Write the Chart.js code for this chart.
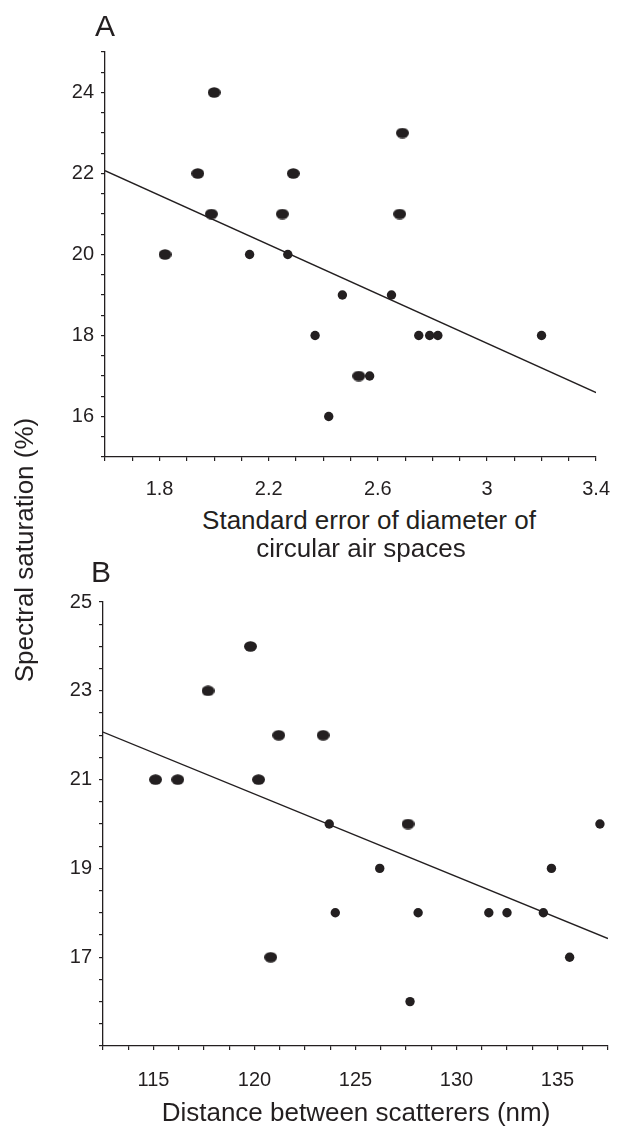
<!DOCTYPE html>
<html>
<head>
<meta charset="utf-8">
<script src="https://cdn.jsdelivr.net/npm/chart.js@4.4.1/dist/chart.umd.min.js"></script>
<style>
  html, body { margin: 0; padding: 0; background: #fff; }
  #page { position: relative; width: 626px; height: 1127px; overflow: hidden; font-family: Arial, "Liberation Sans", sans-serif; color: #231f20; }
  canvas { position: absolute; left: 0; }
  .txt { position: absolute; white-space: nowrap; line-height: 1; }
  .panel { font-size: 30px; }
  .xtitle { font-size: 26px; transform: translateX(-50%); }
  #ytitle { font-size: 26px; width: 300px; height: 26px; text-align: center; transform: rotate(-90deg); }
</style>
</head>
<body>
<div id="page">
  <canvas id="chartA" width="626" height="500" style="top:0"></canvas>
  <canvas id="chartB" width="626" height="567" style="top:560px"></canvas>

  <div class="txt panel" style="left:95px; top:11px">A</div>
  <div class="txt panel" style="left:91px; top:557px">B</div>
  <div class="txt xtitle" style="left:369px; top:507px">Standard error of diameter of</div>
  <div class="txt xtitle" style="left:361px; top:535px">circular air spaces</div>
  <div class="txt xtitle" style="left:356px; top:1099px">Distance between scatterers (nm)</div>
  <div class="txt" id="ytitle" style="left:-126px; top:537px">Spectral saturation (%)</div>
</div>

<script>
// Panel A: standard error of diameter vs spectral saturation
const aLargeX = [1.82, 2.00, 1.94, 1.99, 2.25, 2.29, 2.53, 2.69, 2.68];
const aLargeY = [20, 24, 22, 21, 21, 22, 17, 23, 21];
const aSmallX = [2.13, 2.27, 2.37, 2.42, 2.47, 2.57, 2.65, 2.75, 2.79, 2.82, 3.20];
const aSmallY = [20, 20, 18, 16, 19, 17, 19, 18, 18, 18, 18];
const aFitX = [1.6, 3.4];
const aFitY = [22.07, 16.59];
const aXTicks = [1.8, 2.2, 2.6, 3, 3.4];
const aYTicks = [16, 18, 20, 22, 24];

// Panel B: distance between scatterers vs spectral saturation
const bLargeX = [115.1, 116.2, 117.7, 119.8, 120.2, 121.2, 120.8, 123.4, 127.6];
const bLargeY = [21, 21, 23, 24, 21, 22, 17, 22, 20];
const bSmallX = [123.7, 124.0, 126.2, 127.7, 128.1, 131.6, 132.5, 134.3, 134.7, 135.6, 137.1];
const bSmallY = [20, 18, 19, 16, 18, 18, 18, 18, 19, 17, 20];
const bFitX = [112.5, 137.5];
const bFitY = [22.07, 17.42];
const bXTicks = [115, 120, 125, 130, 135];
const bYTicks = [17, 19, 21, 23, 25];

const ink = '#231f20';
Chart.defaults.font.family = 'Arial, "Liberation Sans", sans-serif';
Chart.defaults.color = ink;

// slightly wider dot for the doubled points
const bigDot = document.createElement('canvas');
bigDot.width = 13;
bigDot.height = 11;
const bctx = bigDot.getContext('2d');
bctx.fillStyle = ink;
bctx.beginPath();
bctx.ellipse(6.5, 5.5, 6.5, 5.2, 0, 0, Math.PI * 2);
bctx.fill();

function pts(xs, ys) {
    return xs.map((x, i) => ({ x: x, y: ys[i] }));
}

function labelFrom(list) {
    return function (value) {
        const hit = list.find(t => Math.abs(t - value) < 1e-6);
        return hit === undefined ? '' : String(hit);
    };
}

function makePanel(id, cfg) {
    const axis = {
        border: { display: true, color: ink, width: 1.3 },
        grid: { display: true, drawOnChartArea: false, drawTicks: true, tickLength: 4, color: ink, lineWidth: 1.2 }
    };
    new Chart(document.getElementById(id), {
        type: 'scatter',
        data: {
            datasets: [
                {
                    data: pts(cfg.smallX, cfg.smallY),
                    backgroundColor: ink,
                    pointRadius: 4.7,
                    pointBorderWidth: 0
                },
                {
                    data: pts(cfg.largeX, cfg.largeY),
                    pointStyle: bigDot,
                    pointRadius: 6
                },
                {
                    type: 'line',
                    data: pts(cfg.fitX, cfg.fitY),
                    borderColor: ink,
                    borderWidth: 1.3,
                    pointRadius: 0,
                    fill: false
                }
            ]
        },
        options: {
            responsive: false,
            animation: false,
            layout: { padding: cfg.padding },
            plugins: { legend: { display: false }, tooltip: { enabled: false } },
            scales: {
                x: Object.assign({}, axis, {
                    type: 'linear',
                    min: cfg.xMin,
                    max: cfg.xMax,
                    afterFit: s => { s.height = cfg.xHeight; },
                    ticks: {
                        stepSize: cfg.xStep,
                        autoSkip: false,
                        maxRotation: 0,
                        padding: cfg.xPad,
                        font: { size: 20 },
                        callback: labelFrom(cfg.xTicks)
                    }
                }),
                y: Object.assign({}, axis, {
                    min: 15,
                    max: 25,
                    afterFit: s => { s.width = cfg.yWidth; },
                    ticks: {
                        stepSize: 0.5,
                        autoSkip: false,
                        padding: 7,
                        font: { size: 20 },
                        callback: labelFrom(cfg.yTicks)
                    }
                })
            }
        }
    });
}

makePanel('chartA', {
    smallX: aSmallX, smallY: aSmallY, largeX: aLargeX, largeY: aLargeY,
    fitX: aFitX, fitY: aFitY, xTicks: aXTicks, yTicks: aYTicks,
    xMin: 1.6, xMax: 3.4, xStep: 0.1, xPad: 16,
    padding: { left: 0, right: 23, top: 52, bottom: 0 },
    yWidth: 105, xHeight: 43
});

makePanel('chartB', {
    smallX: bSmallX, smallY: bSmallY, largeX: bLargeX, largeY: bLargeY,
    fitX: bFitX, fitY: bFitY, xTicks: bXTicks, yTicks: bYTicks,
    xMin: 112.5, xMax: 137.5, xStep: 1.25, xPad: 18,
    padding: { left: 0, right: 12, top: 42, bottom: 0 },
    yWidth: 103, xHeight: 81
});
</script>
</body>
</html>
